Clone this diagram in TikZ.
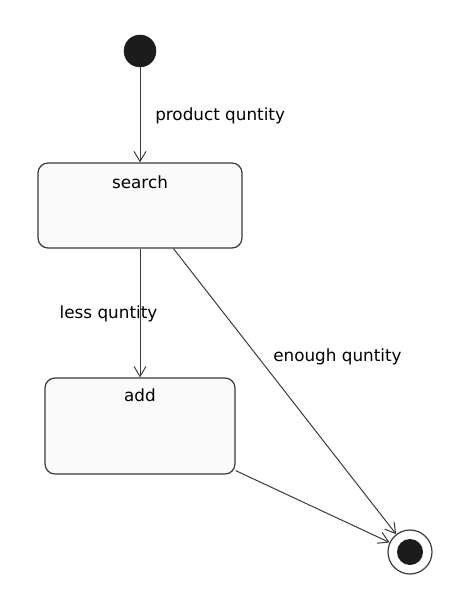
\documentclass[tikz,border=0pt]{standalone}
\usepackage{fontspec}
\setmainfont{DejaVu Sans}
\usetikzlibrary{arrows.meta}
\definecolor{linec}{HTML}{3A3A3A}
\definecolor{boxfill}{HTML}{FAFAFA}
\definecolor{dotc}{HTML}{1C1C1C}
\tikzset{
  statebox/.style={draw=linec, line width=0.9pt, fill=boxfill, rounded corners=7.5pt, inner sep=0pt},
  trans/.style={draw=linec, line width=0.75pt, -{Straight Barb[length=7.5pt,width=9pt,line width=0.75pt]}},
  lbl/.style={inner sep=0pt, font=\fontsize{12.6}{15}\selectfont, text=black},
}
\begin{document}
\begin{tikzpicture}[x=0.75pt,y=-0.75pt]
\useasboundingbox (0,0) rectangle (470,609);
\node[circle, fill=dotc, draw=dotc, minimum size=24pt, inner sep=0pt] (init) at (140,51) {};
\node[statebox, minimum width=153pt, minimum height=63.75pt] (search) at (140,205.5) {};
\node[lbl, anchor=center] (searchtxt) at (140,182) {search};
\node[statebox, minimum width=142.5pt, minimum height=72pt] (add) at (140,426) {};
\node[lbl, anchor=center] (addtxt) at (140,395) {add};
\node[circle, draw=linec, line width=0.9pt, fill=white, minimum size=33pt, inner sep=0pt] (fin) at (410,552) {};
\node[circle, fill=dotc, minimum size=19.5pt, inner sep=0pt] (finin) at (410,552) {};
\draw[trans] (init) -- (search.north);
\draw[trans] (search.south) -- (add.north);
\draw[trans] (search) -- (fin);
\draw[trans] (add) -- (fin);
\node[lbl, anchor=west] (l1) at (155,116) {product quntity};
\node[lbl, anchor=center] (l2) at (108.5,314) {less quntity};
\node[lbl, anchor=west] (l3) at (273,357) {enough quntity};
\end{tikzpicture}
\end{document}
